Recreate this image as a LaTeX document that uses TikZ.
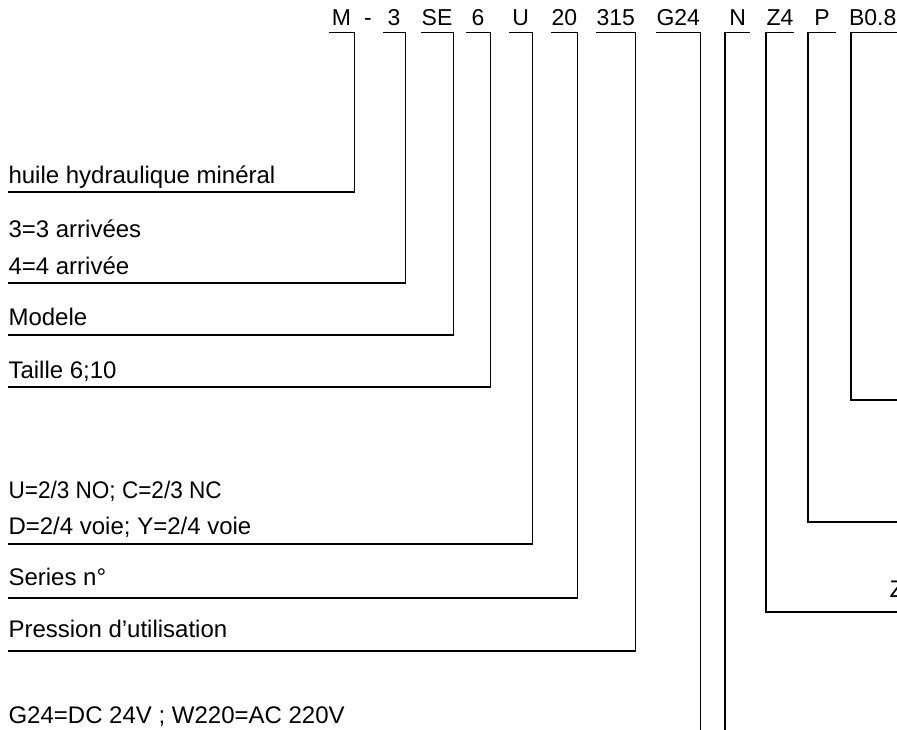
\documentclass[tikz,border=0pt]{standalone}
\usepackage{fontspec}
\setmainfont{Liberation Sans}
\newfontfamily\narrowfont[FakeStretch=0.94]{Liberation Sans}
\usepackage{tikz}

\begin{document}
\begin{tikzpicture}[x=1pt, y=-1pt, line width=1.1pt,
    every node/.style={font=\fontsize{24}{28}\selectfont, inner sep=0pt, text depth=0pt},
    code/.style={anchor=south west, outer ysep=6.5pt, font=\fontsize{23}{27}\selectfont},
    desc/.style={anchor=south west, inner xsep=0.5pt, outer ysep=9pt},
    note/.style={anchor=base west, inner xsep=0.5pt}]

    \useasboundingbox (0,0) rectangle (897,730);

    % Codice
    \node[code, minimum width=24pt] (cM) at (329,32.5) {M};
    \node[anchor=base, font=\fontsize{23}{27}\selectfont] (cSep) at (368,26) {-};
    \node[code, minimum width=21pt] (c3) at (383,32.5) {3};
    \node[code, minimum width=31pt] (cSE) at (421,32.5) {SE};
    \node[code, minimum width=23pt] (c6) at (466,32.5) {6};
    \node[code, minimum width=22pt] (cU) at (509,32.5) {U};
    \node[code, minimum width=22pt] (c20) at (551,32.5) {20};
    \node[code, minimum width=38pt] (c315) at (596,32.5) {315};
    \node[code, minimum width=43pt] (cG24) at (656,32.5) {G24};
    \node[code, minimum width=24pt] (cN) at (725,32.5) {N};
    \node[code, minimum width=25pt] (cZ4) at (766,32.5) {Z4};
    \node[code, minimum width=27pt] (cP) at (808,32.5) {P};
    \node[code, minimum width=46pt, xshift=-2.5pt] (cB) at (851,32.5) {B0.8};

    % Descrizioni
    \node[desc, outer ysep=8pt] (dM) at (7.5,192) {huile hydraulique minéral};
    \node[note] (d3a) at (7.5,238) {3=3 arrivées};
    \node[desc] (d3) at (7.5,283) {4=4 arrivée};
    \node[desc, outer ysep=10pt] (dSE) at (7.5,335) {Modele};
    \node[desc] (d6) at (7.5,387) {Taille 6;10};
    \node[note] (dUa) at (7.5,498) {\narrowfont U=2/3 NO; C=2/3 NC};
    \node[desc, outer ysep=10pt] (dU) at (7.5,544) {D=2/4 voie; Y=2/4 voie};
    \node[desc, outer ysep=13pt] (d20) at (7.5,598) {Series n°};
    \node[desc, outer ysep=14pt] (d315) at (7.5,651) {Pression d’utilisation};
    \node[note] (dG24) at (7.5,723) {G24=DC 24V ; W220=AC 220V};
    \node[desc, outer ysep=15pt] (dZ4) at (888.5,612) {Z};

    \coordinate (bas) at (0,730);
    \coordinate (pP) at (897,522);
    \coordinate (pB) at (897,400);

    % Linee
    \draw (cM.south west) -- (cM.south east) |- (dM.south west);
    \draw (c3.south west) -- (c3.south east) |- (d3.south west);
    \draw (cSE.south west) -- (cSE.south east) |- (dSE.south west);
    \draw (c6.south west) -- (c6.south east) |- (d6.south west);
    \draw (cU.south west) -- (cU.south east) |- (dU.south west);
    \draw (c20.south west) -- (c20.south east) |- (d20.south west);
    \draw (c315.south west) -- (c315.south east) |- (d315.south west);
    \draw (cG24.south west) -- (cG24.south east) -- (cG24.south east |- bas);
    \draw (cN.south east) -- (cN.south west) -- (cN.south west |- bas);
    \draw (cZ4.south east) -- (cZ4.south west) |- (dZ4.south east);
    \draw (cP.south east) -- (cP.south west) |- (pP);
    \draw ([xshift=8pt]cB.south east) -- ([xshift=2.5pt]cB.south west) |- (pB);
\end{tikzpicture}
\end{document}
